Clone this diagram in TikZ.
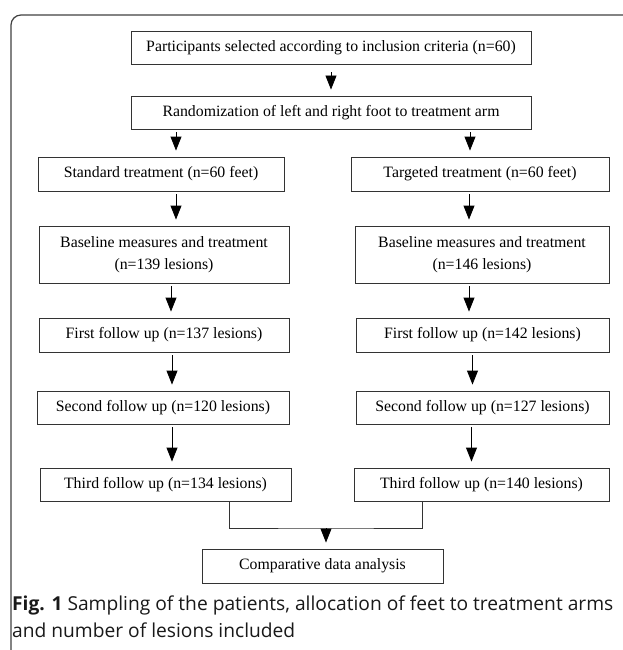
\documentclass[tikz,border=0pt]{standalone}
\usepackage{fontspec}
\setmainfont{Liberation Serif}
\newfontfamily\capfont{Open Sans}
\usetikzlibrary{arrows.meta}

\begin{document}
\begin{tikzpicture}[x=1pt,y=-1pt,
  stepbox/.style={draw=black!80, line width=0.9pt, inner sep=0pt, align=center,
    font=\fontsize{15.8}{21.5}\selectfont},
  flow/.style={draw=black, line width=0.9pt, shorten <=3pt, shorten >=6pt,
    -{Triangle[width=11pt,length=14pt]}}]
\useasboundingbox (0,0) rectangle (623,650);
\draw [black!75, line width=1.2pt, rounded corners=10pt] (11,650) -- (11,15) -- (623,15);
% top of the chart
\node [stepbox, minimum width=400pt, minimum height=33pt] (part) at (331,47.5) {Participants selected according to inclusion criteria (n=60)};
\node [stepbox, minimum width=400pt, minimum height=33pt] (rand) at (331,112.5) {Randomization of left and right foot to treatment arm};
% standard arm
\node [stepbox, minimum width=246pt, minimum height=34pt] (std) at (161,174) {Standard treatment (n=60 feet)};
\node [stepbox, minimum width=250pt, minimum height=57pt] (baseL) at (164,254.5) {Baseline measures and treatment\\(n=139 lesions)};
\node [stepbox, minimum width=250pt, minimum height=34pt] (firstL) at (164,335) {First follow up (n=137 lesions)};
\node [stepbox, minimum width=252pt, minimum height=33pt] (secondL) at (163,407.5) {Second follow up (n=120 lesions)};
\node [stepbox, minimum width=251pt, minimum height=33pt] (thirdL) at (165.5,484.5) {Third follow up (n=134 lesions)};
% targeted arm
\node [stepbox, minimum width=258pt, minimum height=34pt] (tgt) at (480,174) {Targeted treatment (n=60 feet)};
\node [stepbox, minimum width=254pt, minimum height=57pt] (baseR) at (482,254.5) {Baseline measures and treatment\\(n=146 lesions)};
\node [stepbox, minimum width=253pt, minimum height=34pt] (firstR) at (482.5,335) {First follow up (n=142 lesions)};
\node [stepbox, minimum width=253pt, minimum height=33pt] (secondR) at (482.5,407.5) {Second follow up (n=127 lesions)};
\node [stepbox, minimum width=255pt, minimum height=33pt] (thirdR) at (481.5,484.5) {Third follow up (n=140 lesions)};
% end
\node [stepbox, minimum width=241pt, minimum height=34pt] (comp) at (322.5,566) {Comparative data analysis};
\coordinate (join) at (326,528);
\node [anchor=base west, align=left, inner sep=0pt, text=black!90,
  font=\capfont\fontsize{19.2}{26.5}\selectfont] (cap) at (12,637)
  {\textbf{Fig. 1} Sampling of the patients, allocation of feet to treatment arms\\and number of lesions included};
% arrows
\draw [flow, shorten <=8pt] (part) -- (rand);
\draw [flow] ([xshift=15pt]std.north |- rand.south) -- ([xshift=15pt]std.north);
\draw [flow] ([xshift=-10pt]tgt.north |- rand.south) -- ([xshift=-10pt]tgt.north);
\draw [flow] ([xshift=15pt]std.south) -- ([xshift=15pt]std.south |- baseL.north);
\draw [flow] ([xshift=-11pt]tgt.south) -- ([xshift=-11pt]tgt.south |- baseR.north);
\draw [flow] ([xshift=7pt]baseL.south) -- ([xshift=7pt]baseL.south |- firstL.north);
\draw [flow] ([xshift=-13pt]baseR.south) -- ([xshift=-13pt]baseR.south |- firstR.north);
\draw [flow] ([xshift=8pt]firstL.south) -- ([xshift=8pt]firstL.south |- secondL.north);
\draw [flow] ([xshift=-10pt]firstR.south) -- ([xshift=-10pt]firstR.south |- secondR.north);
\draw [flow] ([xshift=9pt]secondL.south) -- ([xshift=9pt]secondL.south |- thirdL.north);
\draw [flow] ([xshift=-11pt]secondR.south) -- ([xshift=-11pt]secondR.south |- thirdR.north);
\draw [black!80, line width=0.9pt] ([xshift=63.5pt]thirdL.south) |- (join) -| ([xshift=-59.5pt]thirdR.south);
\draw [flow, shorten <=0pt] (join) -- (join |- comp.north);
\end{tikzpicture}
\end{document}
